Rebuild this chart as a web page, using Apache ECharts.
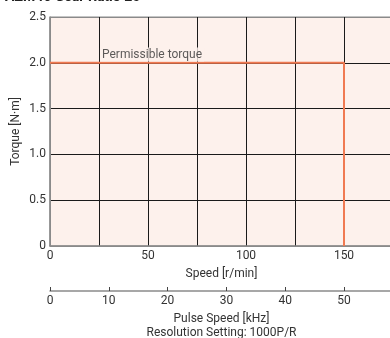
<!DOCTYPE html>
<html>
<head>
<meta charset="utf-8">
<script src="https://cdn.jsdelivr.net/npm/echarts@6/dist/echarts.min.js"></script>
<style>
  html, body { margin: 0; padding: 0; background: #fff; }
  #main { width: 390px; height: 338px; }
</style>
</head>
<body>
<div id="main"></div>
<script>
// permissible torque curve (speed r/min, torque N·m)
const speed = [0, 150, 150];
const torque = [2.0, 2.0, 0];
const labelText = 'Permissible torque';
const titleText = 'AZM46 Gear Ratio 20';

const font = 'Roboto';
const grey = '#8a8a8a';
const ink = '#333';

const chart = echarts.init(document.getElementById('main'));
chart.setOption({
  animation: false,
  title: {
    text: titleText, left: 0, top: -15,
    textStyle: { fontFamily: font, fontSize: 14, fontWeight: 'bold', color: '#222' }
  },
  grid: {
    left: 50, top: 17, right: -3, bottom: 92,
    outerBoundsMode: 'none', containLabel: false,
    show: true, backgroundColor: '#fdf1ec', borderColor: grey, borderWidth: 1
  },
  xAxis: [{
    type: 'value', min: 0, max: 175, interval: 25,
    name: 'Speed [r/min]', nameLocation: 'middle', nameGap: 22,
    nameTextStyle: { fontFamily: font, fontSize: 12, color: ink },
    axisLine: { lineStyle: { color: grey, width: 1.5 } },
    axisTick: { show: false },
    axisLabel: {
      fontFamily: font, fontSize: 12, color: ink, margin: 4, showMaxLabel: false,
      formatter: v => (v % 50 === 0 ? String(v) : '')
    },
    splitLine: { show: true, lineStyle: { color: ['#8a8a8a', '#1a1a1a', '#1a1a1a', '#1a1a1a', '#1a1a1a', '#1a1a1a', '#1a1a1a', '#1a1a1a'], width: 1 } }
  }, {
    type: 'value', position: 'bottom', offset: 45, min: 0, max: 175 / 3, interval: 10,
    name: 'Pulse Speed [kHz]\nResolution Setting: 1000P/R', nameLocation: 'middle', nameGap: 21,
    nameTextStyle: { fontFamily: font, fontSize: 12, color: ink, lineHeight: 14 },
    axisLine: { onZero: false, lineStyle: { color: grey, width: 1.5 } },
    axisTick: { show: true, inside: true, length: 4, lineStyle: { color: '#444' } },
    axisLabel: { fontFamily: font, fontSize: 12, color: ink, margin: 4, showMaxLabel: false },
    splitLine: { show: false }
  }],
  yAxis: {
    type: 'value', min: 0, max: 2.5, interval: 0.5,
    name: 'Torque [N·m]', nameLocation: 'middle', nameGap: 28, nameMoveOverlap: false,
    nameTextStyle: { fontFamily: font, fontSize: 12, color: ink },
    axisLine: { show: true, lineStyle: { color: grey, width: 1.5 } },
    axisTick: { show: false },
    axisLabel: {
      fontFamily: font, fontSize: 12, color: ink, margin: 4,
      formatter: v => (v === 0 ? '0' : v.toFixed(1))
    },
    splitLine: { show: true, lineStyle: { color: ['#8a8a8a', '#1a1a1a', '#1a1a1a', '#1a1a1a', '#1a1a1a', '#8a8a8a'], width: 1 } }
  },
  series: [{
    type: 'line', xAxisIndex: 0,
    data: speed.map((s, i) => [s, torque[i]]),
    showSymbol: false, symbol: 'none',
    lineStyle: { color: '#f07a52', width: 2 },
    z: 3
  }, {
    type: 'scatter', xAxisIndex: 0, symbolSize: 0,
    data: [[25.5, 2.09]],
    label: {
      show: true, position: 'right', distance: 0, formatter: labelText,
      fontFamily: font, fontSize: 12, color: ink,
      backgroundColor: '#fdf1ec', padding: [1, 2, 1, 2]
    },
    z: 4
  }]
});
</script>
</body>
</html>
